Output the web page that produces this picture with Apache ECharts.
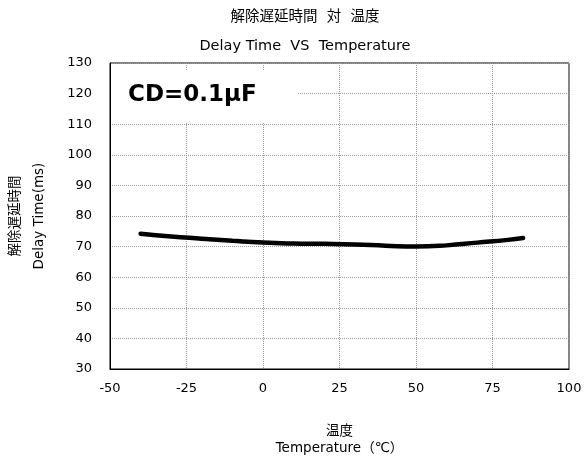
<!DOCTYPE html>
<html>
<head>
<meta charset="utf-8">
<script src="https://cdn.jsdelivr.net/npm/echarts@6/dist/echarts.min.js"></script>
<style>
  html, body { margin: 0; padding: 0; background: #fff; }
  #chart { width: 586px; height: 460px; }
</style>
</head>
<body>
<div id="chart"></div>
<script>
  // 温度 (℃) と 解除遅延時間 (ms)
  const temps = [-40, -30, -20, -10, 0, 10, 20, 30, 40, 50, 60, 70, 80, 85]
  const delays = [74.2, 73.3, 72.6, 71.9, 71.3, 71.0, 70.9, 70.7, 70.3, 70.0, 70.4, 71.3, 72.2, 72.8]
  const xTicks = [-50, -25, 0, 25, 50, 75, 100]
  const yTicks = [30, 40, 50, 60, 70, 80, 90, 100, 110, 120, 130]

  const fontJa = '"DejaVu Sans", "Noto Sans CJK JP", sans-serif'
  const chart = echarts.init(document.getElementById('chart'))

  const option = {
    backgroundColor: '#fff',
    animation: false,
    title: {
      text: '解除遅延時間  対  温度\nDelay Time  VS  Temperature',
      left: 300,
      top: -2,
      textAlign: 'center',
      textStyle: {
        fontFamily: fontJa,
        fontSize: 14.5,
        fontWeight: 'normal',
        color: '#000',
        lineHeight: 29
      }
    },
    grid: {
      left: 110,
      right: 17,
      top: 63,
      bottom: 91,
      outerBoundsMode: 'none',
      show: true,
      borderColor: '#000',
      borderWidth: 1
    },
    xAxis: {
      type: 'value',
      min: xTicks[0],
      max: xTicks[xTicks.length - 1],
      interval: 25,
      name: '温度\nTemperature（℃）',
      nameLocation: 'middle',
      nameGap: 54,
      nameTextStyle: { fontFamily: fontJa, fontSize: 13.5, color: '#000', lineHeight: 17 },
      axisLine: { onZero: false, lineStyle: { color: '#000' } },
      axisTick: { show: false },
      axisLabel: { fontFamily: fontJa, fontSize: 13, color: '#000', margin: 13 },
      splitLine: { lineStyle: { color: '#999', type: [1, 1], width: 1 } }
    },
    yAxis: {
      type: 'value',
      min: yTicks[0],
      max: yTicks[yTicks.length - 1],
      interval: 10,
      name: '解除遅延時間\nDelay Time(ms)',
      nameLocation: 'middle',
      nameGap: 59,
      nameTextStyle: { fontFamily: fontJa, fontSize: 13.5, color: '#000', lineHeight: 24 },
      axisLine: { show: true, onZero: false, lineStyle: { color: '#000' } },
      axisTick: { show: false },
      axisLabel: { fontFamily: fontJa, fontSize: 13, color: '#000', margin: 18 },
      splitLine: { lineStyle: { color: '#999', type: [1, 1], width: 1 } }
    },
    graphic: [
      {
        type: 'rect',
        shape: { x: 111, y: 70, width: 186, height: 53 },
        style: { fill: '#fff' },
        z: 10
      },
      {
        type: 'text',
        x: 128,
        y: 95,
        style: {
          text: 'CD=0.1μF',
          font: 'bold 23px "DejaVu Sans", sans-serif',
          fill: '#000',
          verticalAlign: 'middle'
        },
        z: 11
      }
    ],
    series: [
      {
        type: 'line',
        data: temps.map((t, i) => [t, delays[i]]),
        smooth: true,
        showSymbol: false,
        lineStyle: { color: '#000', width: 4.5, cap: 'round' },
        z: 12
      }
    ]
  }
  chart.setOption(option)
</script>
</body>
</html>
